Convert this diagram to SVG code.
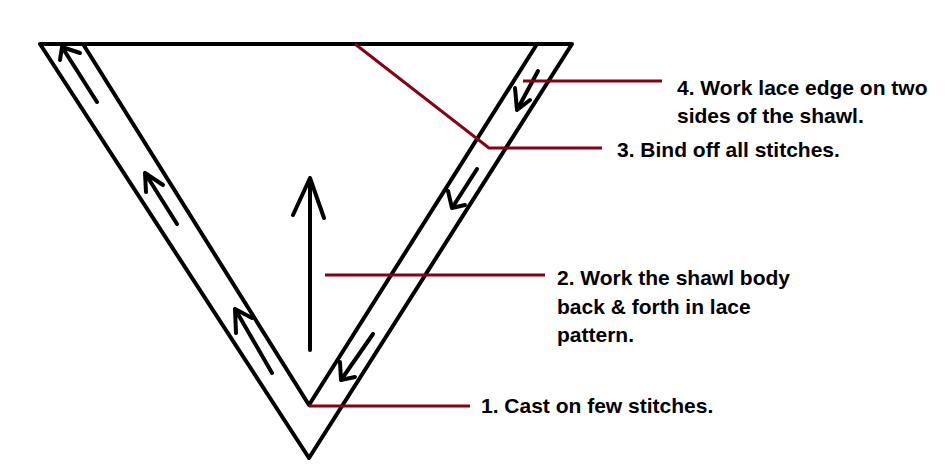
<svg xmlns="http://www.w3.org/2000/svg" width="952" height="476" viewBox="0 0 952 476">
<style>
.k{fill:none;stroke:#000;stroke-width:4;stroke-linecap:round;stroke-linejoin:round}
.r{fill:none;stroke:#880015;stroke-width:3}
.t{font-family:"Liberation Sans",Arial,sans-serif;font-weight:bold;font-size:21px;fill:#000}
</style>
<rect width="952" height="476" fill="#fff"/>
<g id="shawl">
<path class="k" d="M40,44 L572,44 L309,458 Z"/>
<path class="k" d="M83,44 L309,405 L537,44"/>
</g>
<g id="edge-arrows">
<path class="k" d="M97,102 L62,47 M60,60 L62,47 L80,53"/>
<path class="k" d="M177,224 L145,173 M146,192 L145,173 L163,185"/>
<path class="k" d="M272,373 L235,309 M236,333 L235,309 L252,318"/>
<path class="k" d="M538,71 L517,110 M515,88 L517,110 L530,100"/>
<path class="k" d="M477,169 L452,208 M448,191 L452,208 L465,205"/>
<path class="k" d="M373,334 L341,380 M340,362 L341,380 L355,377"/>
</g>
<g id="body-arrow">
<path class="k" d="M310,350 L310,178 M293,215 L310,178 L324,218"/>
</g>
<g id="connectors">
<path class="r" d="M523,81 L662,81"/>
<path class="r" d="M355,44 L489,148 L602,148"/>
<path class="r" d="M325,275 L545,275"/>
<path class="r" d="M309,406 L470,406"/>
</g>
<g id="label4"><text class="t" x="677" y="95">4. Work lace edge on two</text><text class="t" x="677" y="123">sides of the shawl.</text></g>
<g id="label3"><text class="t" x="617" y="157">3. Bind off all stitches.</text></g>
<g id="label2"><text class="t" x="557" y="285">2. Work the shawl body</text><text class="t" x="557" y="314">back &amp; forth in lace</text><text class="t" x="557" y="342">pattern.</text></g>
<g id="label1"><text class="t" x="481" y="413">1. Cast on few stitches.</text></g>
</svg>
